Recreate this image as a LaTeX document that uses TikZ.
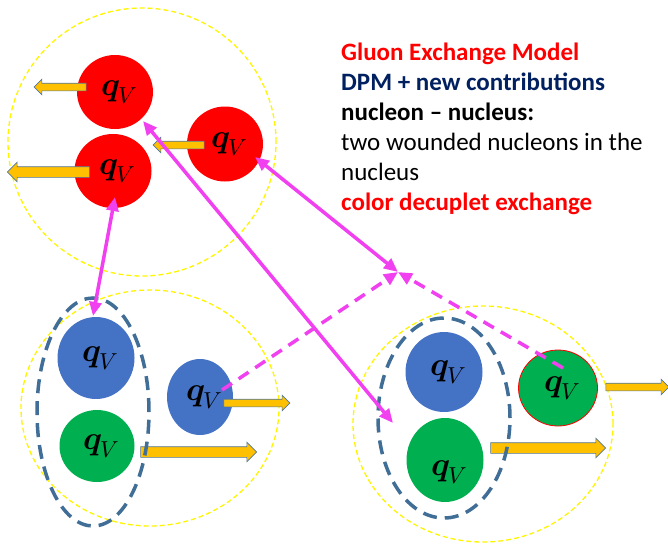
\documentclass[tikz,border=0pt]{standalone}
\usepackage{amsmath}
\usepackage{fontspec}
\usepackage{unicode-math}
\setmainfont{Carlito}
\setmathfont{Latin Modern Math}
\usetikzlibrary{shapes.geometric, shapes.arrows, arrows.meta, calc}
\definecolor{quarkred}{RGB}{255, 0, 0}
\definecolor{quarkblue}{RGB}{68, 114, 196}
\definecolor{quarkgreen}{RGB}{0, 176, 80}
\definecolor{pushfill}{RGB}{255, 192, 0}
\definecolor{pushedge}{RGB}{80, 120, 160}
\definecolor{shellyellow}{RGB}{255, 245, 0}
\definecolor{pairblue}{RGB}{65, 110, 150}
\definecolor{gluonpink}{RGB}{240, 64, 240}
\definecolor{titleblue}{RGB}{0, 32, 96}

\newcommand{\qval}[1][0pt]{\hspace*{9pt}\raisebox{#1}{$\symbfit{q}_{V}$}}

\begin{document}
\begin{tikzpicture}[
        x=1pt, y=-1pt,
        quark/.style={ellipse, inner sep=0pt, font=\fontsize{33}{33}\selectfont},
        shell/.style={draw=shellyellow, line width=1.3pt, dash pattern=on 5pt off 3pt},
        pair/.style={draw=pairblue, line width=3.5pt, dash pattern=on 14pt off 8pt},
        push/.style={single arrow, draw=pushedge, fill=pushfill, line width=0.6pt, inner xsep=0pt, single arrow tip angle=90, minimum height=#1},
        slim/.style={inner ysep=3.5pt, single arrow head extend=4pt},
        wide/.style={inner ysep=5pt, single arrow head extend=4.5pt},
        gluon/.style={draw=gluonpink, line width=3.5pt, {Triangle[length=14pt, width=12pt]}-{Triangle[length=14pt, width=12pt]}},
        halfgluon/.style={draw=gluonpink, line width=3.5pt, dash pattern=on 12pt off 8pt, -{Triangle[length=14pt, width=12pt]}}
    ]
        \useasboundingbox (0,0) rectangle (668,543);

        % Nucleon shells
        \draw[shell] (142,142) circle (134pt);
        \draw[shell] (150,408) ellipse [x radius=129pt, y radius=118pt];
        \draw[shell] (483,424) ellipse [x radius=130pt, y radius=118pt];

        % Projectile quarks
        \node[quark, fill=quarkred, minimum width=76pt, minimum height=74pt] (tq1) at (115,92) {\qval};
        \node[quark, fill=quarkred, minimum width=77pt, minimum height=74pt] (tq2) at (113,171) {\qval[-6pt]};
        \node[quark, fill=quarkred, minimum width=76pt, minimum height=75pt] (tq3) at (225,144) {\qval};

        % First wounded nucleon
        \node[quark, fill=quarkblue, minimum width=77pt, minimum height=82pt] (lb) at (96,358) {\qval};
        \node[quark, fill=quarkgreen, minimum width=75pt, minimum height=72pt] (lg) at (97,446) {\qval};
        \node[quark, fill=quarkblue, minimum width=66pt, minimum height=76pt] (lv) at (200,397) {\qval};

        % Second wounded nucleon
        \node[quark, fill=quarkblue, minimum width=77pt, minimum height=80pt] (rb) at (444,372) {\qval};
        \node[quark, fill=quarkgreen, minimum width=77pt, minimum height=84pt] (rg) at (445,460) {\qval[-40pt]};
        \node[quark, fill=quarkgreen, draw=quarkred, line width=0.8pt, minimum width=79pt, minimum height=76pt] (rv) at (558,388) {\qval};

        % Momentum arrows
        \node[push=52pt, slim, rotate=180] (tq1push) at (62,87) {};
        \node[push=82pt, wide, rotate=180] (tq2push) at (51,172) {};
        \node[push=51pt, slim, rotate=180] (tq3push) at (180.5,145) {};
        \node[push=66pt, slim] (lvpush) at (255,403) {};
        \node[push=116pt, wide] (lgpush) at (196,452) {};
        \node[push=63pt, slim] (rvpush) at (635.5,387) {};
        \node[push=115pt, wide] (rgpush) at (545.5,448) {};

        % Diquark pairs
        \draw[pair] (93,412) ellipse [x radius=56pt, y radius=114pt];
        \draw[pair] (444,418) ellipse [x radius=66pt, y radius=100pt];

        % Exchanges
        \coordinate (meet) at (398,272);
        \draw[gluon] ([shift={(2,26)}]tq2.center) -- ([shift={(-3,-42)}]lb.center);
        \draw[gluon] ([shift={(28,29)}]tq1.center) -- ([shift={(-52,-37)}]rg.center);
        \draw[gluon] ([shift={(30,13)}]tq3.center) -- (meet);
        \draw[halfgluon] ([shift={(22,-7)}]lv.center) -- (meet);
        \draw[halfgluon] ([shift={(5,-20)}]rv.center) -- (meet);

        % Caption
        \node[anchor=north west, inner sep=0pt, align=left, font=\fontsize{25}{30}\selectfont] (caption) at (341,43) {%
            \textcolor{quarkred}{\textbf{Gluon Exchange Model}}\\
            \textcolor{titleblue}{\textbf{DPM + new contributions}}\\
            \textbf{nucleon -- nucleus:}\\
            two wounded nucleons in the\\
            nucleus\\
            \textcolor{quarkred}{\textbf{color decuplet exchange}}};
    \end{tikzpicture}
\end{document}
